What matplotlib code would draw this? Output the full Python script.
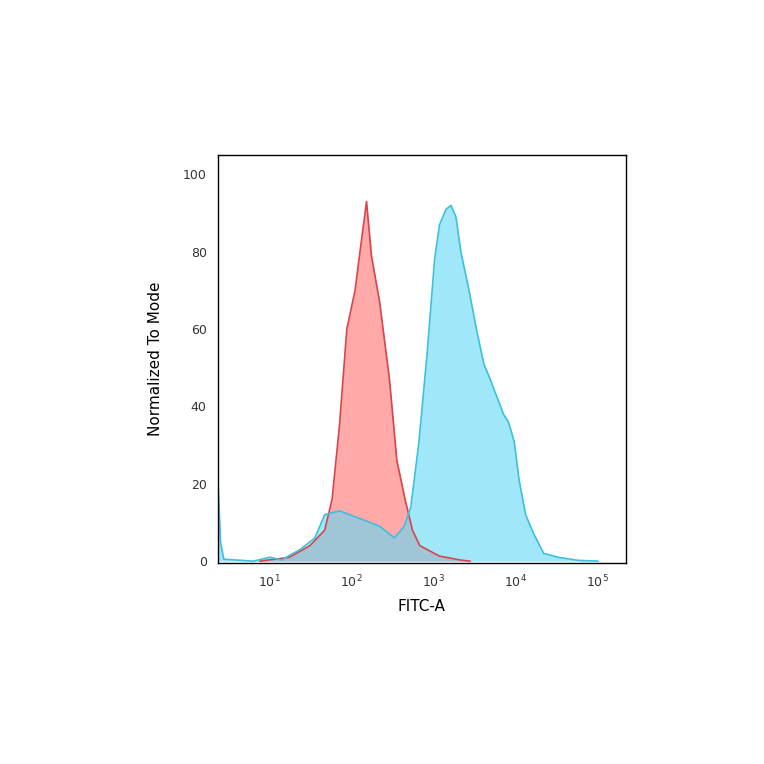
import matplotlib
matplotlib.use("Agg")
import matplotlib.pyplot as plt
import numpy as np

# x in log10(FITC-A), y in % of mode
red_logx = [0.88, 1.24, 1.49, 1.67, 1.76, 1.85, 1.94, 2.04, 2.10, 2.15, 2.18, 2.24, 2.34, 2.46, 2.55, 2.65, 2.74, 2.83, 3.07, 3.32, 3.44]
red_y =    [0,    1,    4,    8,    16,   35,   60,   70,   80,   88,   93,   79,   67,   47,   26,   16,   8,    4,    1.3,  0.3,  0]

blue_logx = [0.37, 0.40, 0.44, 0.8, 1.0, 1.15, 1.24, 1.37, 1.55, 1.67, 1.85, 2.10, 2.34, 2.52, 2.64, 2.72, 2.82, 2.92, 3.01, 3.07, 3.15, 3.21, 3.27,
             3.33, 3.43, 3.52, 3.61, 3.67, 3.76, 3.85, 3.91, 3.98, 4.04, 4.12, 4.22, 4.34, 4.52, 4.76, 5.0]
blue_y =    [20,   5,    0.5,  0,   1,   0.3,  1.5,  3,    6,    12,   13,   11,   9,    6,    9,    14,   31,   54,   78,   87,   91,   92,   89,
             80,   70,   60,   51,   48,   43,   38,   36,   31,   21,   12,   7,    2,    1,    0.2,  0]

fig = plt.figure(figsize=(7.64, 7.64), dpi=100)
ax = fig.add_axes([0.285, 0.263, 0.534, 0.534])
rx = 10 ** np.array(red_logx)
bx = 10 ** np.array(blue_logx)
ax.fill_between(rx, red_y, color="#ff9a9a", alpha=0.85, lw=0)
ax.plot(rx, red_y, color="#d9434a", lw=1.2)
ax.fill_between(bx, blue_y, color="#5fd8f5", alpha=0.6, lw=0)
ax.plot(bx, blue_y, color="#3cc0e0", lw=1.2)

ax.set_xscale("log")
ax.set_xlim(10 ** 0.366, 10 ** 5.34)
ax.set_ylim(-0.5, 105)
ax.set_xticks([1e1, 1e2, 1e3, 1e4, 1e5])
ax.set_xticklabels([r"$10^{1}$", r"$10^{2}$", r"$10^{3}$", r"$10^{4}$", r"$10^{5}$"])
ax.xaxis.set_minor_locator(matplotlib.ticker.NullLocator())
ax.set_yticks([0, 20, 40, 60, 80, 100])
ax.tick_params(length=0, labelsize=9, colors="#333333", pad=8)
ax.set_xlabel("FITC-A", fontsize=11, labelpad=6)
ax.set_ylabel("Normalized To Mode", fontsize=11, labelpad=14)
for s in ax.spines.values():
    s.set_linewidth(1.0)
fig.savefig("out.png", dpi=100)
